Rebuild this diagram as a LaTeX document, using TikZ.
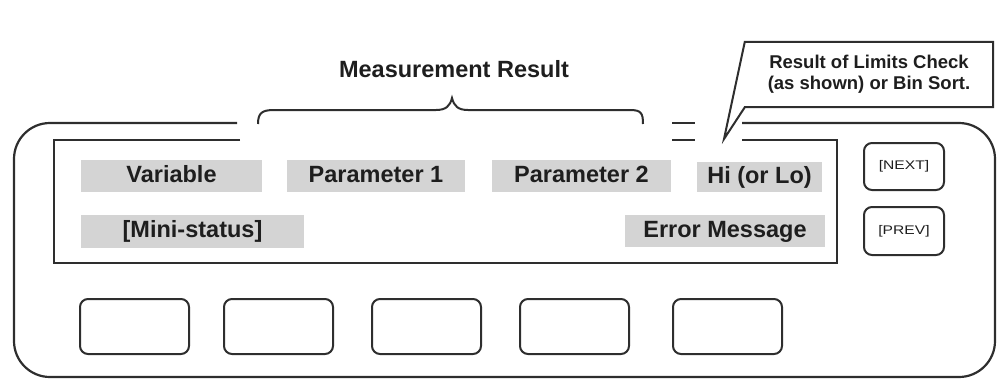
\documentclass[tikz,border=0pt]{standalone}
\usepackage{fontspec}
\setmainfont{Liberation Sans}
\definecolor{ln}{HTML}{2E2E2E}
\definecolor{gbox}{HTML}{D4D4D4}
\definecolor{txt}{HTML}{1E1E1E}
\begin{document}
\begin{tikzpicture}[x=1pt,y=-1pt,
  line/.style={draw=ln, line width=2.2pt},
  thin/.style={draw=ln, line width=2pt},
  lbl/.style={fill=gbox, inner sep=0pt, text=txt, text height=17pt, text depth=5pt, font=\bfseries\fontsize{23.5}{26}\selectfont},
  keybox/.style={draw=ln, line width=2pt, rounded corners=8pt, minimum width=109pt, minimum height=55pt, inner sep=0pt},
  navkey/.style={draw=ln, line width=2pt, rounded corners=8pt, minimum width=80pt, minimum height=47pt, inner sep=0pt, text=txt, font=\fontsize{12.5}{14}\selectfont},
  note/.style={text=txt, font=\bfseries\fontsize{18.5}{21}\selectfont, align=center, inner sep=0pt}
]
\useasboundingbox (0,0) rectangle (999,378);

% outer frame (broken at top)
\draw[line, rounded corners=36pt] (237,123) -- (14,123) -- (14,377) -- (995,377) -- (995,123) -- (742,123);
% inner display (broken at top)
\draw[line] (240,140) -- (54,140) -- (54,263) -- (837,263) -- (837,140) -- (742,140);
% break marks
\draw[line] (672,123) -- (695,123);
\draw[line] (672,140) -- (695,140);

% brace
\draw[thin] (258,124) .. controls (258,113) and (262,110) .. (274,110) -- (436,110)
  .. controls (446,110) and (450,106) .. (452,98)
  .. controls (454,106) and (458,110) .. (468,110) -- (630,110)
  .. controls (641,110) and (643,113) .. (643,124);
\node[text=txt, font=\bfseries\fontsize{23.5}{26}\selectfont, anchor=base] (meas) at (454,77) {Measurement Result};

% callout
\node[note, minimum width=248pt, minimum height=65pt] (callout) at (869,74.5) {Result of Limits Check\\(as shown) or Bin Sort.};
\coordinate (tip) at (724,139);
\draw[thin] (callout.north west) -- (callout.north east) -- (callout.south east) -- (callout.south west) -- (tip) -- cycle;

% labels
\node[lbl, minimum width=181pt, minimum height=32pt] (var) at (171.5,176) {Variable};
\node[lbl, minimum width=178pt, minimum height=32pt] (p1) at (376,176) {Parameter 1};
\node[lbl, minimum width=179pt, minimum height=32pt] (p2) at (581.5,176) {Parameter 2};
\node[lbl, minimum width=125pt, minimum height=30pt] (hilo) at (759.5,177) {Hi (or Lo)};
\node[lbl, minimum width=223pt, minimum height=33pt] (mini) at (192.5,231.5) {[Mini-status]};
\node[lbl, minimum width=200pt, minimum height=32pt] (err) at (725,231) {Error Message};

% nav keys
\node[navkey] (next) at (904,166.5) {\scalebox{1.25}[1]{[NEXT]}};
\node[navkey, minimum height=48pt] (prev) at (904,231) {\scalebox{1.25}[1]{[PREV]}};

% soft keys
\node[keybox] (k1) at (134.5,326.5) {};
\node[keybox] (k2) at (278.5,326.5) {};
\node[keybox] (k3) at (426.5,326.5) {};
\node[keybox] (k4) at (574.5,326.5) {};
\node[keybox] (k5) at (727.5,326.5) {};
\end{tikzpicture}
\end{document}
